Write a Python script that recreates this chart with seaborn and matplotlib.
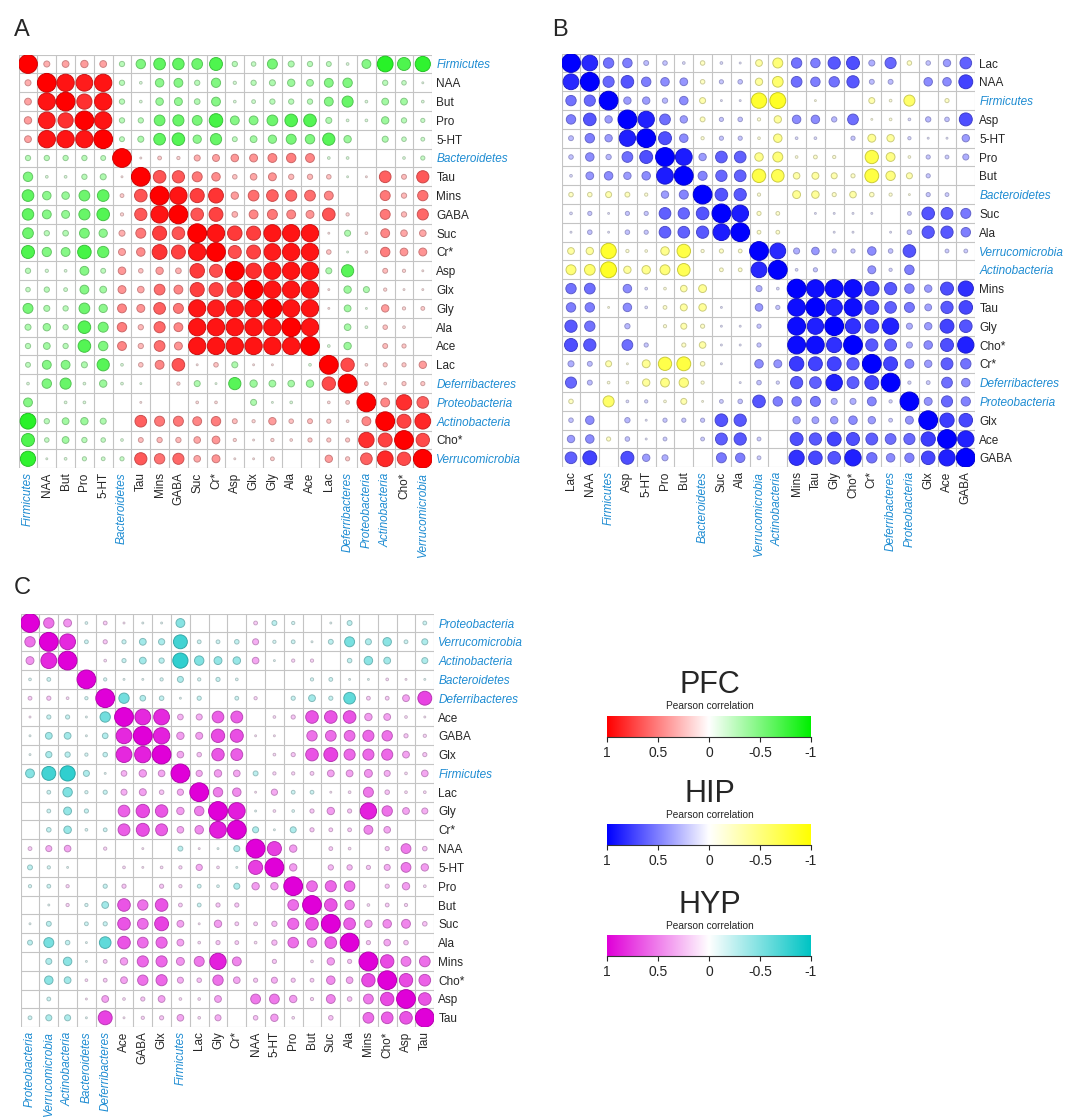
import numpy as np
import pandas as pd
import matplotlib
matplotlib.use('Agg')
import matplotlib.pyplot as plt
import seaborn as sns
from matplotlib.colors import LinearSegmentedColormap

# Etiquetas de cada painel (ordem do agrupamento)
labels_pfc = ['Firmicutes', 'NAA', 'But', 'Pro', '5-HT', 'Bacteroidetes', 'Tau', 'Mins', 'GABA',
              'Suc', 'Cr*', 'Asp', 'Glx', 'Gly', 'Ala', 'Ace', 'Lac', 'Deferribacteres',
              'Proteobacteria', 'Actinobacteria', 'Cho*', 'Verrucomicrobia']
labels_hip = ['Lac', 'NAA', 'Firmicutes', 'Asp', '5-HT', 'Pro', 'But', 'Bacteroidetes', 'Suc', 'Ala',
              'Verrucomicrobia', 'Actinobacteria', 'Mins', 'Tau', 'Gly', 'Cho*', 'Cr*',
              'Deferribacteres', 'Proteobacteria', 'Glx', 'Ace', 'GABA']
labels_hyp = ['Proteobacteria', 'Verrucomicrobia', 'Actinobacteria', 'Bacteroidetes', 'Deferribacteres',
              'Ace', 'GABA', 'Glx', 'Firmicutes', 'Lac', 'Gly', 'Cr*', 'NAA', '5-HT', 'Pro', 'But',
              'Suc', 'Ala', 'Mins', 'Cho*', 'Asp', 'Tau']

bacterias = ['Firmicutes', 'Bacteroidetes', 'Deferribacteres', 'Proteobacteria',
             'Actinobacteria', 'Verrucomicrobia']

# Triangulo inferior das correlacoes de Pearson (linha i -> colunas 0..i-1)
corr_pfc = [
    [0.32],
    [0.36, 0.92],
    [0.39, 0.89, 0.81],
    [0.36, 0.92, 0.92, 0.92],
    [-0.28, -0.28, -0.28, -0.28, -0.26],
    [-0.50, -0.14, -0.14, -0.28, -0.32, 0.10],
    [-0.62, -0.45, -0.40, -0.57, -0.62, 0.20, 0.67],
    [-0.61, -0.47, -0.42, -0.59, -0.67, 0.17, 0.65, 0.92],
    [-0.57, -0.28, -0.30, -0.52, -0.44, 0.32, 0.53, 0.75, 0.67],
    [-0.69, -0.49, -0.47, -0.72, -0.60, 0.37, 0.45, 0.79, 0.74, 0.92],
    [-0.28, -0.17, -0.14, -0.47, -0.26, 0.40, 0.24, 0.39, 0.30, 0.77, 0.69],
    [-0.24, -0.28, -0.20, -0.47, -0.36, 0.42, 0.35, 0.57, 0.47, 0.75, 0.74, 0.82],
    [-0.53, -0.32, -0.28, -0.57, -0.44, 0.47, 0.42, 0.62, 0.53, 0.91, 0.89, 0.91, 0.92],
    [-0.32, -0.39, -0.28, -0.67, -0.53, 0.50, 0.28, 0.59, 0.47, 0.92, 0.92, 0.92, 0.92, 0.92],
    [-0.28, -0.36, -0.28, -0.67, -0.50, 0.47, 0.28, 0.57, 0.42, 0.92, 0.92, 0.92, 0.92, 0.92, 0.92],
    [-0.26, -0.47, -0.47, -0.32, -0.65, -0.14, 0.24, 0.47, 0.67, 0.10, 0.24, -0.32, 0.10, 0.10, 0.0, -0.14],
    [-0.14, -0.50, -0.59, -0.14, -0.39, -0.14, -0.10, 0.0, 0.17, -0.32, -0.10, -0.65, -0.39, -0.36, -0.35,
     -0.39, 0.71],
    [-0.47, 0.0, -0.14, -0.14, 0.0, 0.0, 0.10, 0.0, 0.0, 0.14, 0.14, 0.0, -0.32, -0.10, -0.14, 0.0, 0.14,
     0.20],
    [-0.84, -0.28, -0.36, -0.39, -0.32, 0.0, 0.62, 0.53, 0.53, 0.47, 0.50, 0.26, 0.17, 0.39, 0.24, 0.26,
     0.22, 0.14, 0.47],
    [-0.69, -0.24, -0.36, -0.28, -0.24, -0.14, 0.26, 0.28, 0.28, 0.35, 0.41, 0.17, 0.10, 0.17, 0.14, 0.22,
     0.22, 0.22, 0.82, 0.74],
    [-0.81, -0.10, -0.14, -0.22, -0.20, -0.22, 0.65, 0.55, 0.59, 0.35, 0.42, 0.10, 0.10, 0.20, 0.0, 0.0,
     0.39, 0.22, 0.62, 0.84, 0.71],
]

corr_hip = [
    [0.84],
    [0.55, 0.59],
    [0.50, 0.67, 0.39],
    [0.26, 0.50, 0.39, 0.87],
    [0.24, 0.45, 0.28, 0.57, 0.69],
    [0.14, 0.41, 0.45, 0.39, 0.45, 0.89],
    [-0.24, -0.24, -0.32, -0.26, -0.17, 0.39, 0.48],
    [0.14, 0.22, 0.10, 0.22, 0.22, 0.62, 0.60, 0.67],
    [0.10, 0.24, 0.10, 0.24, 0.22, 0.62, 0.62, 0.65, 0.89],
    [-0.36, -0.39, -0.82, -0.17, -0.14, -0.45, -0.72, -0.17, -0.22, -0.20],
    [-0.53, -0.57, -0.85, -0.39, -0.45, -0.53, -0.67, 0.0, -0.20, -0.20, 0.84],
    [0.55, 0.57, 0.0, 0.45, 0.14, -0.14, -0.35, -0.42, 0.0, 0.0, 0.32, 0.14],
    [0.50, 0.50, -0.10, 0.45, 0.14, -0.20, -0.37, -0.40, 0.10, 0.0, 0.40, 0.22, 0.94],
    [0.65, 0.55, 0.0, 0.28, 0.0, -0.17, -0.32, -0.22, 0.10, 0.10, 0.22, 0.0, 0.95, 0.87],
    [0.69, 0.65, 0.0, 0.57, 0.22, 0.0, -0.22, -0.35, 0.10, 0.10, 0.22, 0.0, 0.95, 0.94, 0.81],
    [0.32, 0.26, -0.32, -0.10, -0.42, -0.71, -0.74, -0.24, 0.10, 0.0, 0.45, 0.42, 0.77, 0.74, 0.74, 0.65],
    [0.59, 0.26, -0.14, -0.14, -0.39, -0.47, -0.50, -0.17, 0.0, 0.10, 0.24, 0.17, 0.65, 0.62, 0.87, 0.63,
     0.74],
    [-0.24, 0.0, -0.59, 0.14, 0.17, -0.14, -0.32, -0.10, 0.20, 0.24, 0.67, 0.50, 0.50, 0.53, 0.32, 0.32,
     0.47, 0.17],
    [0.24, 0.45, 0.0, 0.28, 0.10, 0.22, 0.22, 0.22, 0.67, 0.65, 0.0, 0.0, 0.39, 0.36, 0.39, 0.45, 0.39,
     0.20, 0.42],
    [0.39, 0.45, -0.22, 0.24, 0.10, 0.20, 0.0, 0.20, 0.63, 0.65, 0.20, 0.0, 0.69, 0.65, 0.74, 0.69, 0.63,
     0.57, 0.59, 0.76],
    [0.62, 0.74, 0.0, 0.69, 0.39, 0.32, 0.0, 0.0, 0.53, 0.50, 0.20, 0.0, 0.81, 0.72, 0.67, 0.87, 0.55,
     0.45, 0.49, 0.72, 0.87],
]

corr_hyp = [
    [0.55],
    [0.42, 0.84],
    [-0.14, -0.20, 0.0],
    [0.20, 0.22, 0.14, -0.17],
    [0.10, -0.22, -0.22, -0.10, -0.55],
    [-0.10, -0.36, -0.36, -0.10, -0.30, 0.84],
    [-0.10, -0.33, -0.28, -0.17, -0.24, 0.84, 0.87],
    [-0.47, -0.74, -0.81, -0.32, -0.10, 0.30, 0.39, 0.35],
    [0.0, -0.20, -0.50, -0.17, -0.22, 0.32, 0.37, 0.24, 0.33],
    [0.0, -0.20, -0.42, -0.22, 0.0, 0.62, 0.71, 0.66, 0.39, 0.50],
    [0.0, -0.24, -0.40, -0.14, -0.20, 0.63, 0.69, 0.63, 0.35, 0.45, 0.89],
    [0.20, 0.32, 0.35, 0.0, 0.17, 0.0, 0.10, 0.0, -0.26, 0.10, -0.10, -0.32],
    [-0.26, -0.17, -0.10, 0.0, 0.0, 0.14, 0.10, 0.14, 0.17, 0.33, 0.14, -0.10, 0.75],
    [-0.17, -0.20, 0.17, 0.0, -0.22, 0.22, 0.0, 0.22, 0.17, -0.20, -0.14, -0.32, 0.39, 0.39],
    [0.0, -0.10, 0.17, -0.17, -0.36, 0.67, 0.55, 0.67, 0.20, -0.20, 0.22, 0.22, 0.0, 0.0, 0.57],
    [-0.10, -0.26, 0.0, -0.20, -0.22, 0.67, 0.57, 0.74, 0.36, 0.10, 0.39, 0.20, 0.20, 0.28, 0.59, 0.67],
    [-0.26, -0.53, -0.24, -0.10, -0.62, 0.67, 0.57, 0.59, 0.36, 0.14, 0.22, 0.20, 0.14, 0.28, 0.56, 0.50,
     0.62],
    [0.0, -0.32, -0.45, -0.10, 0.20, 0.39, 0.59, 0.59, 0.42, 0.53, 0.87, 0.47, 0.0, 0.22, 0.0, 0.14, 0.39,
     0.22],
    [0.0, -0.45, -0.36, 0.14, 0.20, 0.36, 0.55, 0.59, 0.32, 0.24, 0.55, 0.35, 0.22, 0.32, 0.22, 0.20, 0.45,
     0.35, 0.71],
    [0.0, -0.20, 0.0, 0.10, 0.36, 0.14, 0.22, 0.36, 0.14, 0.14, 0.36, 0.0, 0.52, 0.52, 0.39, 0.17, 0.47,
     0.24, 0.52, 0.71],
    [-0.20, -0.32, -0.32, -0.10, 0.74, 0.10, 0.17, 0.22, 0.35, 0.14, 0.32, 0.0, 0.24, 0.39, 0.14, 0.0,
     0.24, 0.0, 0.57, 0.62, 0.67],
]

# cores: (negativo, zero, positivo)
cores_pfc = ['#00F000', '#FFFFFF', '#FF0000']
cores_hip = ['#FFFF00', '#FFFFFF', '#0000FF']
cores_hyp = ['#00C4C4', '#FFFFFF', '#E000D8']

cor_bacteria = '#1E8CD2'

W, H = 1072, 1118
sns.set_style('white')
plt.rcParams['font.family'] = ['Liberation Sans', 'DejaVu Sans']

fig = plt.figure(figsize=(W / 100, H / 100), dpi=100)


def eixo_px(left, top, w, h):
    return fig.add_axes([left / W, 1 - (top + h) / H, w / W, h / H])


def matriz_cheia(tri):
    n = len(tri) + 1
    m = np.eye(n)
    for i, linha in enumerate(tri, start=1):
        for j, v in enumerate(linha):
            m[i, j] = v
            m[j, i] = v
    return m


def painel(left, top, labels, tri, cores):
    n = len(labels)
    cel = 18.8
    ax = eixo_px(left, top, n * cel, n * cel)
    m = matriz_cheia(tri)
    ii, jj = np.meshgrid(np.arange(n), np.arange(n), indexing='ij')
    df = pd.DataFrame({'linha': ii.ravel(), 'coluna': jj.ravel(), 'r': m.ravel()})
    df['area'] = df['r'] ** 2
    cmap = LinearSegmentedColormap.from_list('c', cores)

    for k in range(n + 1):
        ax.axhline(k - 0.5, color='#C4C4C4', lw=0.8, zorder=0)
        ax.axvline(k - 0.5, color='#C4C4C4', lw=0.8, zorder=0)

    sns.scatterplot(data=df, x='coluna', y='linha', hue='r', palette=cmap, hue_norm=(-1, 1),
                    size='area', sizes=(0, 182), size_norm=(0, 1), legend=False, ax=ax, zorder=3)
    coll = ax.collections[-1]
    fc = coll.get_facecolors()
    ec = fc.copy()
    ec[:, :3] *= 0.8
    coll.set_edgecolors(ec)
    coll.set_linewidth(0.7)

    ax.set_xlim(-0.5, n - 0.5)
    ax.set_ylim(n - 0.5, -0.5)
    ax.set_xlabel('')
    ax.set_ylabel('')
    ax.set_xticks(range(n))
    ax.set_yticks(range(n))
    ax.set_xticklabels(labels, rotation=90, fontsize=8.5)
    ax.set_yticklabels(labels, fontsize=8.5)
    ax.yaxis.tick_right()
    ax.tick_params(length=0, pad=3)
    for t in ax.get_xticklabels() + ax.get_yticklabels():
        if t.get_text() in bacterias:
            t.set_color(cor_bacteria)
            t.set_style('italic')
    for s in ax.spines.values():
        s.set_visible(False)
    return ax


painel(18.6, 54.6, labels_pfc, corr_pfc, cores_pfc)
painel(561.6, 53.6, labels_hip, corr_hip, cores_hip)
painel(20.6, 613.6, labels_hyp, corr_hyp, cores_hyp)

fig.text(22 / W, 1 - 30 / H, 'A', fontsize=17, ha='center', va='center')
fig.text(560 / W, 1 - 30 / H, 'B', fontsize=17, ha='center', va='center')
fig.text(22 / W, 1 - 588 / H, 'C', fontsize=17, ha='center', va='center')


# Legendas de cor
def barra(nome, cores, base_titulo, topo_barra):
    fig.text(710 / W, 1 - base_titulo / H, nome, fontsize=22, ha='center', va='baseline')
    fig.text(710 / W, 1 - (base_titulo + 16) / H, 'Pearson correlation', fontsize=7.3,
             ha='center', va='baseline')
    ax = eixo_px(607, topo_barra, 204, 21)
    cmap = LinearSegmentedColormap.from_list('c', cores)
    grad = np.linspace(1, -1, 256)[None, :]
    ax.imshow(grad, cmap=cmap, vmin=-1, vmax=1, aspect='auto', extent=(0, 1, 0, 1))
    ax.set_xticks([0, 0.25, 0.5, 0.75, 1])
    ax.set_xticklabels(['1', '0.5', '0', '-0.5', '-1'], fontsize=10)
    ax.set_yticks([])
    ax.tick_params(axis='x', length=3.5, width=0.8, pad=3, bottom=True)
    for lado in ['top', 'left', 'right']:
        ax.spines[lado].set_visible(False)
    ax.spines['bottom'].set_color('#333333')
    ax.spines['bottom'].set_linewidth(0.8)


barra('PFC', cores_pfc, 692.7, 716)
barra('HIP', cores_hip, 801.7, 824)
barra('HYP', cores_hyp, 912.7, 935)

plt.savefig('out.png', dpi=100, facecolor='white')
